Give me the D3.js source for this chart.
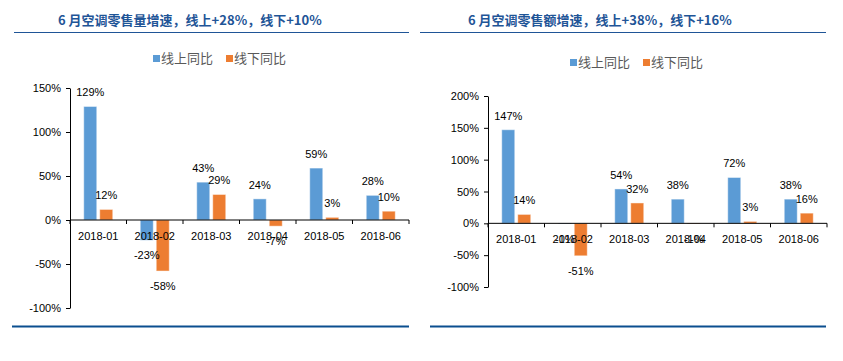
<!DOCTYPE html>
<html>
<head>
<meta charset="utf-8">
<script src="https://cdn.jsdelivr.net/npm/d3@7"></script>
<style>
  body { margin: 0; background: #fff; }
  svg { display: block; }
</style>
</head>
<body>
<div id="chart"></div>
<script>
// 数据
const months = ['2018-01', '2018-02', '2018-03', '2018-04', '2018-05', '2018-06'];
const seriesNames = ['线上同比', '线下同比'];
const volOnline = [129, -23, 43, 24, 59, 28];
const volOffline = [12, -58, 29, -7, 3, 10];
const amtOnline = [147, -1, 54, 38, 72, 38];
const amtOffline = [14, -51, 32, -1, 3, 16];
const volTicks = [150, 100, 50, 0, -50, -100];
const amtTicks = [200, 150, 100, 50, 0, -50, -100];

const colors = ['#5B9BD5', '#ED7D31'];
const W = 843, H = 361;

const svg = d3.select('#chart').append('svg')
  .attr('width', W)
  .attr('height', H)
  .style('background', '#fff');

function drawChart(opt) {
  const g = svg.append('g');

  // 标题
  g.append('text')
    .attr('x', opt.titleX)
    .attr('y', 25)
    .attr('font-family', '"Noto Sans CJK SC", sans-serif')
    .attr('font-weight', 'bold')
    .attr('font-size', 13)
    .attr('fill', '#1F5597')
    .text(opt.title);
  g.append('line')
    .attr('x1', opt.lineX[0]).attr('x2', opt.lineX[1])
    .attr('y1', 32.5).attr('y2', 32.5)
    .attr('stroke', '#1F5597')
    .attr('stroke-width', 1.2);
  g.append('line')
    .attr('x1', opt.bottomX[0]).attr('x2', opt.bottomX[1])
    .attr('y1', 326.5).attr('y2', 326.5)
    .attr('stroke', '#0B4F8F')
    .attr('stroke-width', 2.2);

  // 图例
  const leg = g.append('g');
  seriesNames.forEach((name, i) => {
    const lx = opt.legendX + i * 73;
    leg.append('rect')
      .attr('x', lx).attr('y', opt.legendY - 8)
      .attr('width', 7).attr('height', 7)
      .attr('fill', colors[i]);
    leg.append('text')
      .attr('x', lx + 8).attr('y', opt.legendY)
      .attr('font-family', '"Noto Sans CJK SC", sans-serif')
      .attr('font-size', 13)
      .attr('fill', '#595959')
      .text(name);
  });

  const x = d3.scaleBand()
    .domain(months)
    .range(opt.xRange);
  const x1 = d3.scaleBand()
    .domain([0, 1])
    .range([0, x.bandwidth()])
    .paddingInner(0.1875)
    .paddingOuter(0.86);
  const y = d3.scaleLinear()
    .domain(opt.yDomain)
    .range(opt.yRange);

  // y 轴
  const yAxis = g.append('g')
    .attr('transform', `translate(${opt.xRange[0]},0)`)
    .call(d3.axisLeft(y).tickValues(opt.ticks).tickSize(4).tickSizeOuter(0).tickFormat(d => d + '%'));
  yAxis.select('.domain').attr('stroke', '#000');
  yAxis.selectAll('.tick line').attr('stroke', '#000');
  yAxis.selectAll('text')
    .attr('font-family', '"Liberation Sans", Arial, sans-serif')
    .attr('font-size', 11)
    .attr('fill', '#000')
    .attr('x', -9);

  // 柱子
  const rows = months.map((m, i) => ({ m, vals: [opt.online[i], opt.offline[i]] }));
  rows.forEach(r => {
    r.vals.forEach((v, k) => {
      const bx = x(r.m) + x1(k);
      g.append('rect')
        .attr('x', bx)
        .attr('y', Math.min(y(v), y(0)))
        .attr('width', x1.bandwidth())
        .attr('height', Math.abs(y(v) - y(0)))
        .attr('fill', colors[k])
        .attr('stroke', 'rgba(255,255,255,0.45)')
        .attr('stroke-width', 1);
    });
  });

  // x 轴
  const xAxis = g.append('g')
    .attr('transform', `translate(0,${y(0)})`);
  xAxis.append('line')
    .attr('x1', opt.xRange[0]).attr('x2', opt.xRange[1])
    .attr('stroke', '#000').attr('stroke-width', 1);
  const bounds = months.map(m => x(m)).concat([opt.xRange[1]]);
  xAxis.selectAll('.tk').data(bounds).join('line')
    .attr('x1', d => d).attr('x2', d => d)
    .attr('y1', 0).attr('y2', 4)
    .attr('stroke', '#000');
  xAxis.selectAll('.lbl').data(months).join('text')
    .attr('x', d => x(d) + x.bandwidth() / 2)
    .attr('y', 20)
    .attr('text-anchor', 'middle')
    .attr('font-family', '"Liberation Sans", Arial, sans-serif')
    .attr('font-size', 11)
    .attr('fill', '#000')
    .text(d => d);

  // 数据标签
  rows.forEach(r => {
    r.vals.forEach((v, k) => {
      const cx = x(r.m) + x1(k) + x1.bandwidth() / 2;
      g.append('text')
        .attr('x', cx)
        .attr('y', v >= 0 ? y(v) - 10 : y(v) + 19)
        .attr('text-anchor', 'middle')
        .attr('font-family', '"Liberation Sans", Arial, sans-serif')
        .attr('font-size', 11)
        .attr('fill', '#000')
        .text(v + '%');
    });
  });
}

drawChart({
  title: '6 月空调零售量增速，线上+28%，线下+10%',
  titleX: 58,
  lineX: [14, 409],
  bottomX: [12, 409],
  legendX: 153,
  legendY: 63,
  xRange: [70, 409],
  yDomain: [-100, 150],
  yRange: [308, 88],
  ticks: volTicks,
  online: volOnline,
  offline: volOffline
});

drawChart({
  title: '6 月空调零售额增速，线上+38%，线下+16%',
  titleX: 468,
  lineX: [420, 826],
  bottomX: [430, 826],
  legendX: 570,
  legendY: 67,
  xRange: [488, 827],
  yDomain: [-100, 200],
  yRange: [287, 96],
  ticks: amtTicks,
  online: amtOnline,
  offline: amtOffline
});
</script>
</body>
</html>
